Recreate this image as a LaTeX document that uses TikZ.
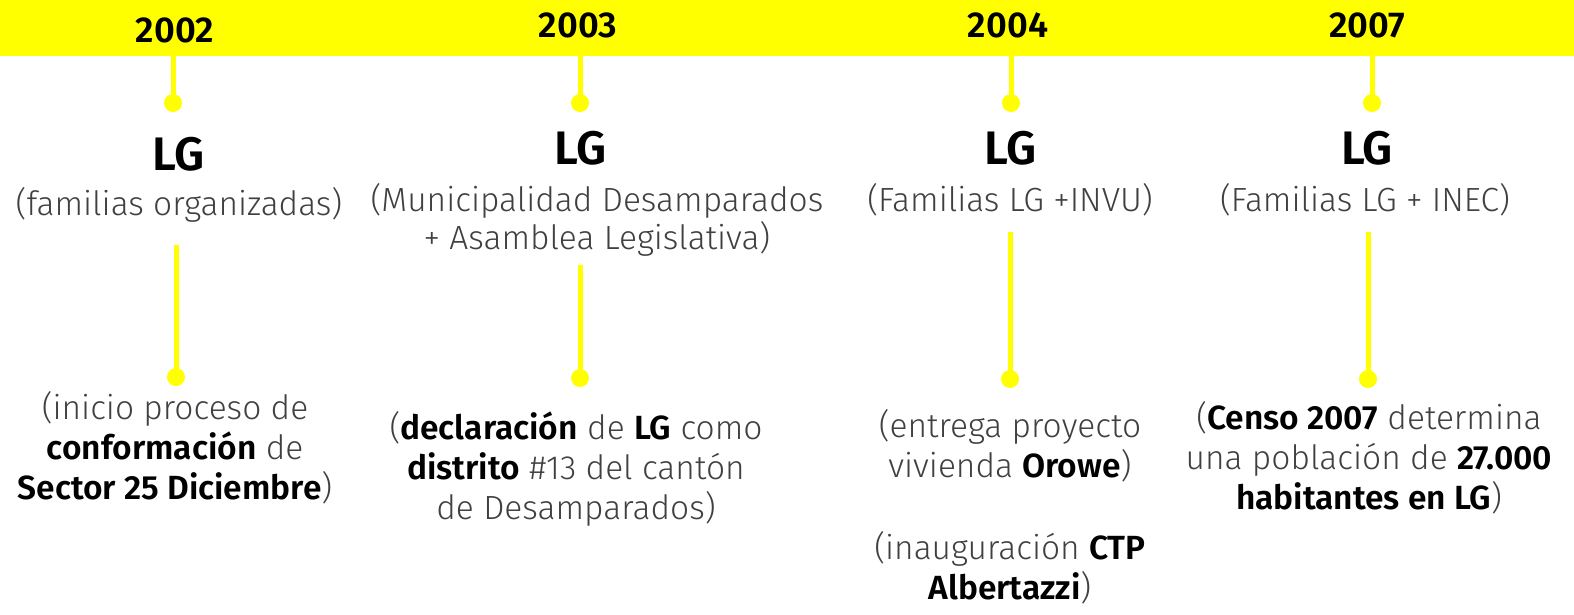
\documentclass[tikz,border=0pt]{standalone}
\usepackage{fontspec}
\setmainfont{Fira Sans}[UprightFont=* Light, BoldFont=* SemiBold]
\definecolor{tlyellow}{HTML}{FFFF00}
\definecolor{txtgray}{HTML}{404040}
\tikzset{
  yearlbl/.style={font=\fontsize{36}{40}\selectfont\bfseries, text=black, inner sep=0pt},
  lglbl/.style={font=\fontsize{47}{50}\selectfont\bfseries, text=black, inner sep=0pt},
  sublbl/.style={font=\fontsize{33.5}{38}\selectfont, text=txtgray, inner sep=0pt, align=center},
  desclbl/.style={font=\fontsize{33.5}{40}\selectfont, text=txtgray, inner sep=0pt, align=center},
  stem/.style={draw=tlyellow, line width=5pt},
  dot/.style={circle, fill=tlyellow, minimum size=18pt, inner sep=0pt},
}
\newcommand{\bk}[1]{\textbf{\color{black}#1}}
\begin{document}
\begin{tikzpicture}[x=1pt,y=-1pt]
\useasboundingbox (0,0) rectangle (1574,614);
\fill[tlyellow] (0,0) rectangle (1574,56);
% years
\node[yearlbl] (y1) at (175,30) {2002};
\node[yearlbl] (y2) at (578,25) {2003};
\node[yearlbl] (y3) at (1008,25) {2004};
\node[yearlbl] (y4) at (1367,25) {2007};
% top stems
\coordinate (s1) at (173,56);
\coordinate (s2) at (580,56);
\coordinate (s3) at (1011,56);
\coordinate (s4) at (1372,56);
\node[dot] (d1) at (173,103) {};
\node[dot] (d2) at (580,103) {};
\node[dot] (d3) at (1011,103) {};
\node[dot] (d4) at (1372,103) {};
\draw[stem] (s1) -- (d1.center);
\draw[stem] (s2) -- (d2.center);
\draw[stem] (s3) -- (d3.center);
\draw[stem] (s4) -- (d4.center);
% LG
\node[lglbl] (lg1) at (179,154) {LG};
\node[lglbl] (lg2) at (581,148) {LG};
\node[lglbl] (lg3) at (1011,148) {LG};
\node[lglbl] (lg4) at (1367,148) {LG};
% subtitles
\node[sublbl] (t1) at (179,205) {(familias organizadas)};
\node[sublbl] (t2) at (597,220) {(Municipalidad Desamparados\\+ Asamblea Legislativa)};
\node[sublbl] (t3) at (1010,200) {(Familias LG +INVU)};
\node[sublbl] (t4) at (1365,200) {(Familias LG + INEC)};
% lower stems
\coordinate (u1) at (176,245);
\coordinate (u2) at (580,265);
\coordinate (u3) at (1010,232);
\coordinate (u4) at (1368,232);
\node[dot] (e1) at (176,377) {};
\node[dot] (e2) at (580,378) {};
\node[dot] (e3) at (1010,379) {};
\node[dot] (e4) at (1368,379) {};
\draw[stem] (u1) -- (e1.center);
\draw[stem] (u2) -- (e2.center);
\draw[stem] (u3) -- (e3.center);
\draw[stem] (u4) -- (e4.center);
% descriptions
\node[desclbl] (b1) at (175,448) {(inicio proceso de\\\bk{conformación} de\\\bk{Sector 25 Diciembre})};
\node[desclbl] (b2) at (576,469) {(\bk{declaración} de \bk{LG} como\\\bk{distrito} \#13 del cantón\\de Desamparados)};
\node[desclbl] (b3) at (1010,446) {(entrega proyecto\\vivienda \bk{Orowe})};
\node[desclbl] (b3b) at (1010,568) {(inauguración \bk{CTP}\\\bk{Albertazzi})};
\node[desclbl] (b4) at (1369,458) {(\bk{Censo 2007} determina\\una población de \bk{27.000}\\\bk{habitantes en LG})};
\end{tikzpicture}
\end{document}
